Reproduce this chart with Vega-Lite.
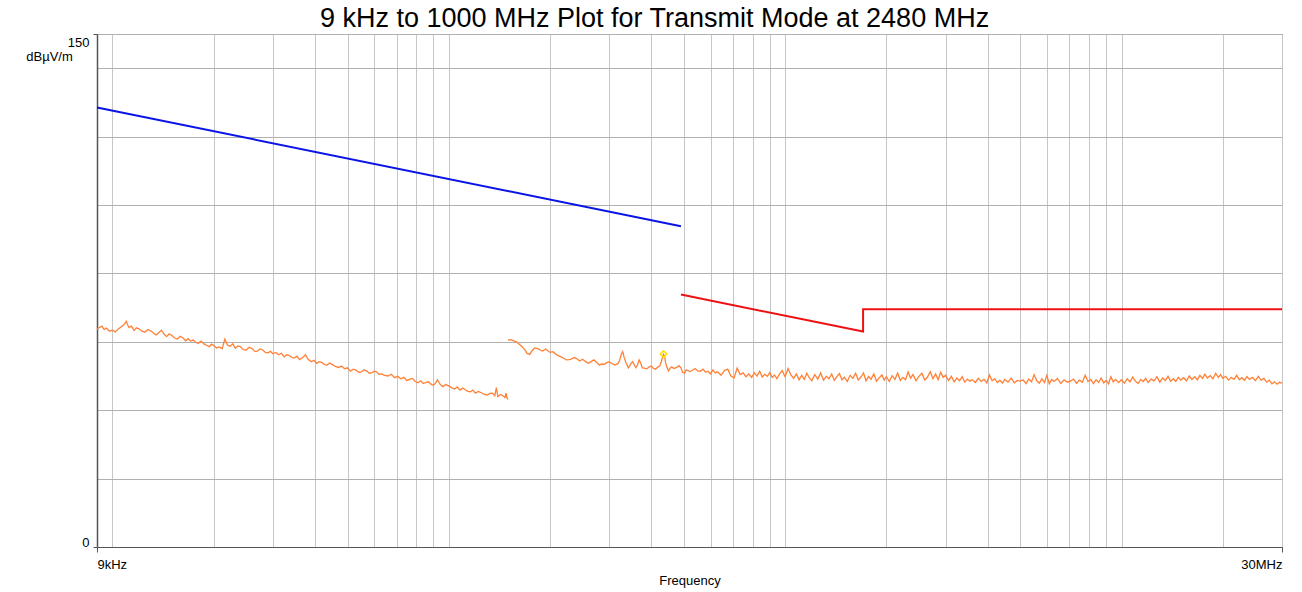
{
  "$schema": "https://vega.github.io/schema/vega-lite/v6.json",
  "width": 1185,
  "height": 513,
  "autosize": {"type": "none"},
  "padding": {"left": 97, "top": 34, "right": 20, "bottom": 45},
  "background": "white",
  "title": {
    "text": "9 kHz to 1000 MHz Plot for Transmit Mode at 2480 MHz",
    "font": "Liberation Sans",
    "fontSize": 27,
    "fontWeight": "normal",
    "color": "#000000",
    "anchor": "middle",
    "baseline": "alphabetic",
    "offset": 6,
    "dx": -35,
    "dy": 26
  },
  "config": {
    "view": {"stroke": "#555555", "strokeWidth": 1},
    "font": "Liberation Sans"
  },
  "datasets": {
    "trace": [
      {"f":9,"v":63.7,"s":1},{"f":9.15,"v":64.2,"s":1},{"f":9.3,"v":64.6,"s":1},{"f":9.45,"v":63.6,"s":1},{"f":9.6,"v":64.0,"s":1},{"f":9.8,"v":63.1,"s":1},{"f":10,"v":63.4,"s":1},{"f":10.2,"v":62.9,"s":1},{"f":10.4,"v":63.7,"s":1},{"f":10.6,"v":64.3,"s":1},{"f":10.8,"v":64.9,"s":1},{"f":11.0,"v":66.0,"s":1},{"f":11.1,"v":65.0,"s":1},{"f":11.2,"v":64.2,"s":1},{"f":11.4,"v":64.6,"s":1},{"f":11.6,"v":63.3,"s":1},{"f":11.8,"v":64.1,"s":1},{"f":12,"v":63.8,"s":1},{"f":12.25,"v":63.1,"s":1},{"f":12.5,"v":62.8,"s":1},{"f":12.75,"v":63.6,"s":1},{"f":13,"v":63.2,"s":1},{"f":13.25,"v":62.5,"s":1},{"f":13.5,"v":62.0,"s":1},{"f":13.75,"v":62.7,"s":1},{"f":14,"v":63.4,"s":1},{"f":14.25,"v":62.2,"s":1},{"f":14.5,"v":61.5,"s":1},{"f":14.75,"v":62.3,"s":1},{"f":15,"v":61.9,"s":1},{"f":15.3,"v":61.1,"s":1},{"f":15.6,"v":60.8,"s":1},{"f":15.9,"v":61.6,"s":1},{"f":16.2,"v":61.2,"s":1},{"f":16.5,"v":60.3,"s":1},{"f":16.8,"v":60.9,"s":1},{"f":17.1,"v":60.2,"s":1},{"f":17.4,"v":60.5,"s":1},{"f":17.7,"v":59.8,"s":1},{"f":18,"v":59.6,"s":1},{"f":18.35,"v":60.2,"s":1},{"f":18.7,"v":59.4,"s":1},{"f":19.05,"v":59.0,"s":1},{"f":19.4,"v":58.6,"s":1},{"f":19.7,"v":59.3,"s":1},{"f":20,"v":58.9,"s":1},{"f":20.4,"v":58.2,"s":1},{"f":20.8,"v":58.5,"s":1},{"f":21.2,"v":58.0,"s":1},{"f":21.6,"v":60.8,"s":1},{"f":22,"v":59.0,"s":1},{"f":22.4,"v":58.7,"s":1},{"f":22.8,"v":59.4,"s":1},{"f":23.2,"v":58.1,"s":1},{"f":23.6,"v":58.8,"s":1},{"f":24,"v":58.6,"s":1},{"f":24.5,"v":57.7,"s":1},{"f":25,"v":57.6,"s":1},{"f":25.5,"v":58.4,"s":1},{"f":26,"v":58.0,"s":1},{"f":26.5,"v":57.2,"s":1},{"f":27,"v":57.3,"s":1},{"f":27.5,"v":57.9,"s":1},{"f":28,"v":57.6,"s":1},{"f":28.5,"v":56.9,"s":1},{"f":29,"v":56.8,"s":1},{"f":29.5,"v":57.2,"s":1},{"f":30,"v":56.5,"s":1},{"f":30.6,"v":56.9,"s":1},{"f":31.2,"v":56.2,"s":1},{"f":31.8,"v":56.6,"s":1},{"f":32.4,"v":55.6,"s":1},{"f":33,"v":56.2,"s":1},{"f":33.6,"v":56.0,"s":1},{"f":34.2,"v":55.4,"s":1},{"f":34.8,"v":55.3,"s":1},{"f":35.4,"v":55.8,"s":1},{"f":36,"v":54.8,"s":1},{"f":36.8,"v":55.4,"s":1},{"f":37.5,"v":56.2,"s":1},{"f":38.2,"v":54.9,"s":1},{"f":39,"v":54.2,"s":1},{"f":39.75,"v":54.6,"s":1},{"f":40.5,"v":53.7,"s":1},{"f":41.25,"v":54.2,"s":1},{"f":42,"v":53.9,"s":1},{"f":42.75,"v":53.3,"s":1},{"f":43.5,"v":53.2,"s":1},{"f":44.25,"v":53.8,"s":1},{"f":45,"v":53.4,"s":1},{"f":46,"v":52.8,"s":1},{"f":47,"v":52.5,"s":1},{"f":48,"v":52.9,"s":1},{"f":49,"v":52.1,"s":1},{"f":50,"v":52.4,"s":1},{"f":51,"v":51.4,"s":1},{"f":52,"v":52.0,"s":1},{"f":53,"v":51.7,"s":1},{"f":54,"v":51.1,"s":1},{"f":55,"v":51.2,"s":1},{"f":56,"v":51.8,"s":1},{"f":57,"v":51.5,"s":1},{"f":58,"v":50.8,"s":1},{"f":59,"v":50.9,"s":1},{"f":60,"v":51.4,"s":1},{"f":61,"v":51.2,"s":1},{"f":62,"v":50.5,"s":1},{"f":63,"v":50.6,"s":1},{"f":64.5,"v":50.2,"s":1},{"f":66,"v":50.0,"s":1},{"f":67.5,"v":50.5,"s":1},{"f":69,"v":49.5,"s":1},{"f":70.5,"v":49.9,"s":1},{"f":72,"v":49.2,"s":1},{"f":73.5,"v":49.6,"s":1},{"f":75,"v":48.7,"s":1},{"f":76.5,"v":49.0,"s":1},{"f":78,"v":49.3,"s":1},{"f":79.5,"v":48.4,"s":1},{"f":81,"v":48.0,"s":1},{"f":82.5,"v":48.6,"s":1},{"f":84,"v":47.8,"s":1},{"f":85.5,"v":48.1,"s":1},{"f":87,"v":48.3,"s":1},{"f":88.5,"v":47.6,"s":1},{"f":90,"v":47.3,"s":1},{"f":91.5,"v":48.0,"s":1},{"f":92.5,"v":48.9,"s":1},{"f":94.5,"v":47.4,"s":1},{"f":96,"v":46.9,"s":1},{"f":98,"v":47.5,"s":1},{"f":100,"v":47.1,"s":1},{"f":102,"v":46.6,"s":1},{"f":104,"v":46.2,"s":1},{"f":106,"v":46.8,"s":1},{"f":108,"v":45.9,"s":1},{"f":110,"v":46.5,"s":1},{"f":112,"v":46.0,"s":1},{"f":114,"v":45.5,"s":1},{"f":116,"v":45.4,"s":1},{"f":118,"v":45.9,"s":1},{"f":120,"v":45.0,"s":1},{"f":122.5,"v":45.5,"s":1},{"f":125,"v":45.1,"s":1},{"f":127.5,"v":44.6,"s":1},{"f":130,"v":44.4,"s":1},{"f":132.5,"v":44.9,"s":1},{"f":135,"v":45.0,"s":1},{"f":137,"v":44.2,"s":1},{"f":138.5,"v":46.6,"s":1},{"f":140,"v":44.0,"s":1},{"f":142.5,"v":44.6,"s":1},{"f":145,"v":44.2,"s":1},{"f":147,"v":43.7,"s":1},{"f":148,"v":45.0,"s":1},{"f":149,"v":43.6,"s":1},{"f":150,"v":43.2,"s":1},
      {"f":150,"v":60.5,"s":2},{"f":153,"v":60.6,"s":2},{"f":156,"v":60.3,"s":2},{"f":159,"v":60.0,"s":2},{"f":162,"v":59.3,"s":2},{"f":165,"v":58.6,"s":2},{"f":168,"v":57.8,"s":2},{"f":171,"v":56.6,"s":2},{"f":174,"v":56.3,"s":2},{"f":177,"v":57.4,"s":2},{"f":180,"v":58.2,"s":2},{"f":184,"v":58.0,"s":2},{"f":187,"v":57.6,"s":2},{"f":190,"v":57.3,"s":2},{"f":194,"v":57.9,"s":2},{"f":200,"v":56.9,"s":2},{"f":204,"v":57.1,"s":2},{"f":208,"v":56.4,"s":2},{"f":212,"v":55.9,"s":2},{"f":216,"v":55.6,"s":2},{"f":220,"v":55.1,"s":2},{"f":224,"v":54.7,"s":2},{"f":228,"v":54.8,"s":2},{"f":232,"v":55.0,"s":2},{"f":236,"v":55.4,"s":2},{"f":240,"v":55.1,"s":2},{"f":245,"v":54.4,"s":2},{"f":250,"v":54.9,"s":2},{"f":255,"v":54.2,"s":2},{"f":260,"v":53.7,"s":2},{"f":265,"v":54.2,"s":2},{"f":270,"v":54.7,"s":2},{"f":275,"v":54.0,"s":2},{"f":280,"v":53.2,"s":2},{"f":285,"v":53.5,"s":2},{"f":290,"v":53.4,"s":2},{"f":295,"v":53.9,"s":2},{"f":300,"v":54.2,"s":2},{"f":306,"v":53.6,"s":2},{"f":312,"v":53.2,"s":2},{"f":318,"v":53.6,"s":2},{"f":322,"v":54.5,"s":2},{"f":326,"v":56.5,"s":2},{"f":329,"v":57.1,"s":2},{"f":332,"v":55.5,"s":2},{"f":336,"v":54.0,"s":2},{"f":342,"v":52.4,"s":2},{"f":348,"v":53.6,"s":2},{"f":352,"v":54.2,"s":2},{"f":356,"v":53.3,"s":2},{"f":360,"v":52.4,"s":2},{"f":364,"v":53.2,"s":2},{"f":368,"v":54.7,"s":2},{"f":372,"v":53.8,"s":2},{"f":376,"v":52.4,"s":2},{"f":382,"v":52.3,"s":2},{"f":388,"v":52.1,"s":2},{"f":394,"v":52.6,"s":2},{"f":400,"v":53.0,"s":2},{"f":406,"v":52.2,"s":2},{"f":412,"v":52.0,"s":2},{"f":418,"v":52.6,"s":2},{"f":424,"v":53.0,"s":2},{"f":428,"v":54.0,"s":2},{"f":432,"v":55.6,"s":2},{"f":435,"v":56.4,"s":2},{"f":438,"v":55.8,"s":2},{"f":441,"v":54.0,"s":2},{"f":445,"v":52.6,"s":2},{"f":450,"v":51.5,"s":2},{"f":455,"v":52.3,"s":2},{"f":460,"v":52.7,"s":2},{"f":466,"v":52.2,"s":2},{"f":472,"v":52.4,"s":2},{"f":478,"v":52.6,"s":2},{"f":484,"v":53.0,"s":2},{"f":490,"v":52.4,"s":2},{"f":496,"v":51.0,"s":2},{"f":502,"v":50.8,"s":2},{"f":508,"v":51.8,"s":2},{"f":514,"v":51.6,"s":2},{"f":520,"v":51.3,"s":2},{"f":530,"v":51.6,"s":2},{"f":540,"v":52.2,"s":2},{"f":550,"v":51.5,"s":2},{"f":560,"v":51.4,"s":2},{"f":570,"v":52.0,"s":2},{"f":580,"v":51.1,"s":2},
      {"f":590,"v":51.4,"s":2},{"f":600,"v":50.6,"s":2},{"f":610,"v":51.8,"s":2},{"f":620,"v":50.9,"s":2},{"f":630,"v":51.2,"s":2},{"f":645,"v":50.2,"s":2},{"f":660,"v":51.6,"s":2},{"f":675,"v":52.0,"s":2},{"f":690,"v":50.0,"s":2},{"f":705,"v":49.4,"s":2},{"f":720,"v":52.3,"s":2},{"f":735,"v":50.4,"s":2},{"f":750,"v":50.9,"s":2},{"f":765,"v":49.8,"s":2},{"f":780,"v":50.6,"s":2},{"f":795,"v":49.6,"s":2},{"f":810,"v":50.9,"s":2},{"f":825,"v":50.0,"s":2},{"f":840,"v":51.4,"s":2},{"f":855,"v":49.7,"s":2},{"f":870,"v":50.5,"s":2},{"f":885,"v":49.9,"s":2},{"f":900,"v":51.0,"s":2},{"f":915,"v":49.6,"s":2},{"f":930,"v":50.3,"s":2},{"f":945,"v":49.2,"s":2},{"f":960,"v":50.4,"s":2},{"f":980,"v":51.6,"s":2},{"f":1000,"v":49.8,"s":2},{"f":1020,"v":52.2,"s":2},{"f":1040,"v":50.3,"s":2},{"f":1060,"v":49.3,"s":2},{"f":1080,"v":50.6,"s":2},{"f":1100,"v":48.9,"s":2},{"f":1120,"v":50.2,"s":2},{"f":1140,"v":49.0,"s":2},{"f":1160,"v":50.8,"s":2},{"f":1180,"v":49.5,"s":2},{"f":1200,"v":48.6,"s":2},{"f":1225,"v":50.4,"s":2},{"f":1250,"v":49.1,"s":2},{"f":1275,"v":50.9,"s":2},{"f":1300,"v":48.8,"s":2},{"f":1325,"v":49.9,"s":2},{"f":1350,"v":49.2,"s":2},{"f":1375,"v":50.6,"s":2},{"f":1400,"v":48.7,"s":2},{"f":1425,"v":49.8,"s":2},{"f":1450,"v":50.7,"s":2},{"f":1475,"v":48.9,"s":2},{"f":1500,"v":49.6,"s":2},{"f":1530,"v":48.4,"s":2},{"f":1560,"v":50.2,"s":2},{"f":1590,"v":49.3,"s":2},{"f":1620,"v":50.8,"s":2},{"f":1650,"v":48.8,"s":2},{"f":1680,"v":49.7,"s":2},{"f":1710,"v":50.9,"s":2},{"f":1740,"v":48.6,"s":2},{"f":1770,"v":49.9,"s":2},{"f":1800,"v":49.0,"s":2},{"f":1835,"v":50.6,"s":2},{"f":1870,"v":48.5,"s":2},{"f":1905,"v":49.5,"s":2},{"f":1940,"v":50.3,"s":2},{"f":1970,"v":48.8,"s":2},{"f":2000,"v":49.8,"s":2},{"f":2040,"v":48.4,"s":2},{"f":2080,"v":50.1,"s":2},{"f":2120,"v":49.0,"s":2},{"f":2160,"v":50.9,"s":2},{"f":2200,"v":48.7,"s":2},{"f":2240,"v":49.6,"s":2},{"f":2280,"v":48.9,"s":2},{"f":2320,"v":51.2,"s":2},{"f":2360,"v":49.4,"s":2},{"f":2400,"v":50.4,"s":2},{"f":2450,"v":48.6,"s":2},{"f":2500,"v":49.9,"s":2},{"f":2550,"v":50.8,"s":2},{"f":2600,"v":48.8,"s":2},{"f":2650,"v":49.7,"s":2},{"f":2700,"v":51.3,"s":2},{"f":2750,"v":49.2,"s":2},{"f":2800,"v":50.6,"s":2},{"f":2850,"v":48.9,"s":2},{"f":2900,"v":51.1,"s":2},{"f":2950,"v":49.6,"s":2},{"f":3000,"v":50.2,"s":2},{"f":3060,"v":48.7,"s":2},{"f":3120,"v":49.9,"s":2},{"f":3180,"v":48.3,"s":2},{"f":3240,"v":49.4,"s":2},{"f":3300,"v":48.6,"s":2},{"f":3360,"v":49.8,"s":2},{"f":3420,"v":48.2,"s":2},{"f":3480,"v":49.1,"s":2},{"f":3540,"v":48.5,"s":2},{"f":3600,"v":48.9,"s":2},{"f":3675,"v":48.1,"s":2},{"f":3750,"v":49.3,"s":2},{"f":3825,"v":48.4,"s":2},{"f":3900,"v":49.0,"s":2},{"f":3975,"v":48.0,"s":2},{"f":4050,"v":50.3,"s":2},{"f":4125,"v":48.6,"s":2},{"f":4200,"v":49.2,"s":2},{"f":4275,"v":48.1,"s":2},{"f":4350,"v":48.8,"s":2},{"f":4425,"v":47.9,"s":2},{"f":4500,"v":49.0,"s":2},{"f":4600,"v":48.2,"s":2},{"f":4700,"v":49.4,"s":2},{"f":4800,"v":48.0,"s":2},{"f":4900,"v":48.7,"s":2},{"f":5000,"v":48.5,"s":2},{"f":5100,"v":48.9,"s":2},{"f":5200,"v":47.8,"s":2},{"f":5300,"v":49.1,"s":2},{"f":5400,"v":48.3,"s":2},{"f":5500,"v":50.4,"s":2},{"f":5600,"v":48.6,"s":2},{"f":5700,"v":47.9,"s":2},{"f":5800,"v":49.2,"s":2},{"f":5900,"v":48.1,"s":2},{"f":6000,"v":50.2,"s":2},{"f":6100,"v":47.7,"s":2},{"f":6200,"v":49.0,"s":2},{"f":6300,"v":48.4,"s":2},{"f":6450,"v":49.3,"s":2},{"f":6600,"v":47.8,"s":2},{"f":6750,"v":48.9,"s":2},{"f":6900,"v":48.2,"s":2},{"f":7050,"v":48.5,"s":2},{"f":7200,"v":49.1,"s":2},{"f":7350,"v":47.9,"s":2},{"f":7500,"v":48.8,"s":2},{"f":7650,"v":48.2,"s":2},{"f":7800,"v":50.2,"s":2},{"f":7950,"v":48.4,"s":2},{"f":8100,"v":49.0,"s":2},{"f":8250,"v":47.8,"s":2},{"f":8400,"v":48.9,"s":2},{"f":8550,"v":48.1,"s":2},{"f":8700,"v":49.4,"s":2},{"f":8850,"v":48.0,"s":2},{"f":9000,"v":48.7,"s":2},{"f":9150,"v":47.7,"s":2},{"f":9300,"v":49.8,"s":2},{"f":9450,"v":48.3,"s":2},{"f":9600,"v":49.0,"s":2},{"f":9800,"v":48.1,"s":2},{"f":10000,"v":48.9,"s":2},{"f":10200,"v":47.9,"s":2},{"f":10400,"v":49.2,"s":2},{"f":10600,"v":48.3,"s":2},{"f":10800,"v":49.7,"s":2},{"f":11000,"v":48.5,"s":2},{"f":11200,"v":47.8,"s":2},{"f":11400,"v":49.0,"s":2},{"f":11600,"v":48.4,"s":2},{"f":11800,"v":49.3,"s":2},{"f":12000,"v":48.1,"s":2},{"f":12250,"v":49.1,"s":2},{"f":12500,"v":48.6,"s":2},{"f":12750,"v":49.8,"s":2},{"f":13000,"v":48.2,"s":2},{"f":13250,"v":49.4,"s":2},{"f":13500,"v":48.7,"s":2},{"f":13750,"v":49.9,"s":2},{"f":14000,"v":48.5,"s":2},{"f":14250,"v":49.2,"s":2},{"f":14500,"v":48.4,"s":2},{"f":14750,"v":49.6,"s":2},{"f":15000,"v":48.8,"s":2},{"f":15300,"v":49.5,"s":2},{"f":15600,"v":48.6,"s":2},{"f":15900,"v":50.0,"s":2},{"f":16200,"v":49.0,"s":2},{"f":16500,"v":49.8,"s":2},{"f":16800,"v":48.9,"s":2},{"f":17100,"v":50.2,"s":2},{"f":17400,"v":49.3,"s":2},{"f":17700,"v":50.5,"s":2},{"f":18000,"v":49.4,"s":2},{"f":18350,"v":50.1,"s":2},{"f":18700,"v":49.2,"s":2},{"f":19050,"v":50.8,"s":2},{"f":19400,"v":49.6,"s":2},{"f":19700,"v":50.4,"s":2},{"f":20000,"v":49.3,"s":2},{"f":20400,"v":49.9,"s":2},{"f":20800,"v":48.8,"s":2},{"f":21200,"v":49.6,"s":2},{"f":21600,"v":49.0,"s":2},{"f":22000,"v":50.2,"s":2},{"f":22400,"v":48.9,"s":2},{"f":22800,"v":49.5,"s":2},{"f":23200,"v":48.7,"s":2},{"f":23600,"v":49.8,"s":2},{"f":24000,"v":49.0,"s":2},{"f":24500,"v":49.6,"s":2},{"f":25000,"v":48.6,"s":2},{"f":25500,"v":49.9,"s":2},{"f":26000,"v":48.8,"s":2},{"f":26500,"v":49.3,"s":2},{"f":27000,"v":48.2,"s":2},{"f":27500,"v":48.8,"s":2},{"f":28000,"v":47.7,"s":2},{"f":28500,"v":48.3,"s":2},{"f":29000,"v":47.6,"s":2},{"f":29500,"v":48.2,"s":2},{"f":30000,"v":47.8,"s":2}
    ],
    "blue": [{"f":9,"v":128.5},{"f":490,"v":93.8}],
    "red": [{"f":490,"v":73.8,"o":1},{"f":1705,"v":63.0,"o":2},{"f":1705,"v":69.5,"o":3},{"f":30000,"v":69.5,"o":4}],
    "peak": [{"f":435,"v":56.4}]
  },
  "encoding": {
    "x": {
      "field": "f",
      "type": "quantitative",
      "scale": {"type": "log", "domain": [9, 30000], "nice": false, "zero": false},
      "axis": {
        "title": "Frequency",
        "titleFont": "Liberation Sans",
        "titleFontSize": 13,
        "titleFontWeight": "normal",
        "titleColor": "#000000",
        "titleBaseline": "alphabetic",
        "titleY": 37,
        "values": [9,10,20,30,40,50,60,70,80,90,100,200,300,400,500,600,700,800,900,1000,2000,3000,4000,5000,6000,7000,8000,9000,10000,20000,30000],
        "labelExpr": "datum.value == 9 ? '9kHz' : (datum.value == 30000 ? '30MHz' : '')",
        "labelFont": "Liberation Sans",
        "labelFontSize": 13,
        "labelColor": "#000000",
        "labelFlush": true,
        "labelPadding": 6,
        "labelBaseline": "top",
        "tickSize": 5,
        "tickColor": "#555555",
        "tickOpacity": {"condition": {"test": "datum.value == 9 || datum.value == 30000", "value": 1}, "value": 0},
        "grid": true,
        "gridColor": "#c6c6c6",
        "gridWidth": 1,
        "domainColor": "#555555",
        "domainWidth": 1
      }
    },
    "y": {
      "field": "v",
      "type": "quantitative",
      "scale": {"domain": [0, 150], "nice": false, "zero": true},
      "axis": {
        "title": "dBµV/m",
        "titleFont": "Liberation Sans",
        "titleFontSize": 13,
        "titleFontWeight": "normal",
        "titleColor": "#000000",
        "titleAngle": 0,
        "titleAlign": "center",
        "titleBaseline": "alphabetic",
        "titleX": -48,
        "titleY": 26,
        "values": [0,20,40,60,80,100,120,140,150],
        "labelExpr": "datum.value == 0 || datum.value == 150 ? datum.label : ''",
        "labelFont": "Liberation Sans",
        "labelFontSize": 13,
        "labelColor": "#000000",
        "labelFlush": true,
        "labelPadding": 4,
        "labelOffset": {"condition": {"test": "datum.value == 0", "value": 2}, "value": 2},
        "tickSize": 4,
        "tickColor": "#555555",
        "tickOpacity": {"condition": {"test": "datum.value == 0 || datum.value == 150", "value": 1}, "value": 0},
        "grid": true,
        "gridColor": "#b0b0b0",
        "gridWidth": 1,
        "domainColor": "#555555",
        "domainWidth": 1.5
      }
    }
  },
  "layer": [
    {
      "data": {"name": "trace"},
      "mark": {"type": "line", "color": "#ff8036", "strokeWidth": 1.3, "interpolate": "linear"},
      "encoding": {"detail": {"field": "s", "type": "nominal"}}
    },
    {
      "data": {"name": "blue"},
      "mark": {"type": "line", "color": "#0a14e6", "strokeWidth": 2},
      "encoding": {}
    },
    {
      "data": {"name": "red"},
      "mark": {"type": "line", "color": "#ee1111", "strokeWidth": 2},
      "encoding": {"order": {"field": "o", "type": "quantitative"}}
    },
    {
      "data": {"name": "peak"},
      "mark": {"type": "point", "shape": "diamond", "filled": false, "color": "#ffe000", "strokeWidth": 1.5, "size": 45, "opacity": 1},
      "encoding": {}
    }
  ]
}
